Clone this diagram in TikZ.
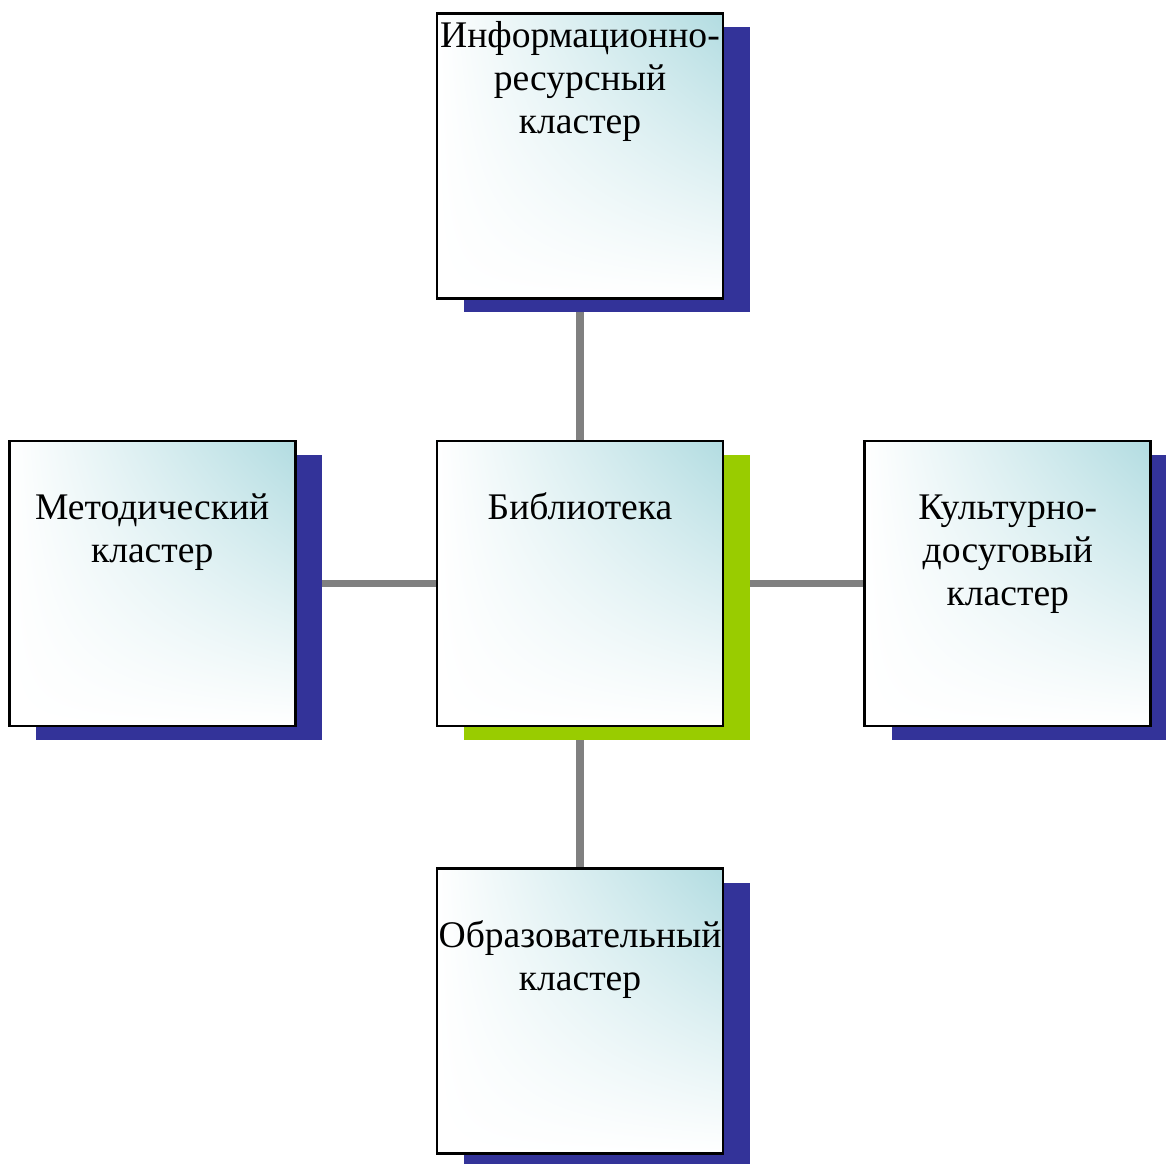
\documentclass[tikz,border=0pt]{standalone}
\usepackage{fontspec}
\setmainfont{Liberation Serif}
\usepackage{tikz}
\usetikzlibrary{positioning,shadows,shadings,backgrounds}

\definecolor{clustercyan}{RGB}{178,220,225}
\definecolor{shadowblue}{RGB}{51,51,153}
\definecolor{shadowgreen}{RGB}{153,204,0}
\definecolor{linkgray}{RGB}{128,128,128}

\newcommand{\clustertext}[2]{\parbox[c][2.85cm][t]{2.86cm}{\centering\vspace*{#1}\strut #2}}

\tikzset{
    cluster/.style={draw=black, line width=0.8pt, inner sep=0pt,
        upper right=clustercyan, upper left=white, lower left=white, lower right=white,
        font=\fontsize{10.7pt}{12.3pt}\selectfont,
        drop shadow={shadow xshift=0.27cm, shadow yshift=-0.14cm, fill=shadowblue, opacity=1}},
    core/.style={cluster,
        drop shadow={shadow xshift=0.27cm, shadow yshift=-0.14cm, fill=shadowgreen, opacity=1}},
    link/.style={draw=linkgray, line width=2pt}
}

\begin{document}
\begin{tikzpicture}[node distance=1.40cm and 1.39cm]
\useasboundingbox (-5.80,5.835) rectangle (5.86,-5.805);
\node[core] (lib) at (0,0) {\clustertext{0.48cm}{Библиотека}};
\node[cluster, above=of lib] (info) {\clustertext{0.04cm}{Информационно-\\ресурсный\\кластер}};
\node[cluster, left=of lib] (method) {\clustertext{0.48cm}{Методический\\кластер}};
\node[cluster, right=of lib] (culture) {\clustertext{0.48cm}{Культурно-\\досуговый\\кластер}};
\node[cluster, below=of lib] (edu) {\clustertext{0.48cm}{Образовательный\\кластер}};
\begin{pgfonlayer}{background}
\foreach \n in {info,method,culture,edu}
    \draw[link] (lib) -- (\n);
\end{pgfonlayer}
\end{tikzpicture}
\end{document}
